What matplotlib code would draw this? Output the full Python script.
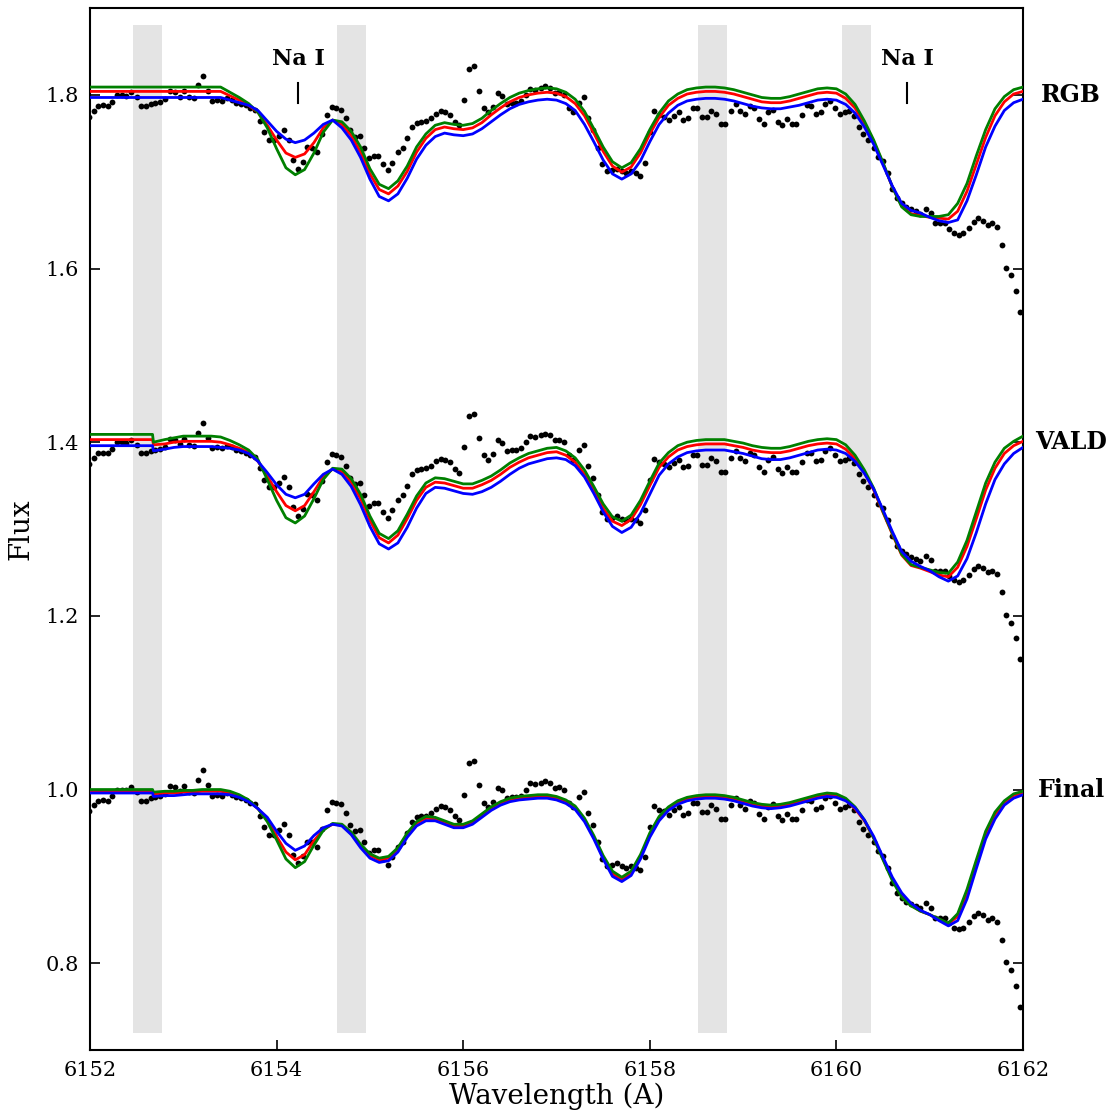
import matplotlib
matplotlib.use('Agg')
import matplotlib.pyplot as plt
import numpy as np

plt.rcParams['font.family'] = 'serif'
plt.rcParams['font.serif'] = ['DejaVu Serif']

# observed spectrum (plotted at +0.0, +0.4, +0.8)
obs_wave = [6151.99, 6152.04, 6152.09, 6152.14, 6152.19, 6152.24, 6152.29, 6152.34, 6152.39, 6152.44,
            6152.50, 6152.55, 6152.60, 6152.65, 6152.70, 6152.75, 6152.80, 6152.86, 6152.91, 6152.96,
            6153.01, 6153.06, 6153.11, 6153.16, 6153.21, 6153.26, 6153.31, 6153.36, 6153.41, 6153.47,
            6153.52, 6153.57, 6153.62, 6153.67, 6153.72, 6153.77, 6153.82, 6153.87, 6153.92, 6153.97,
            6154.03, 6154.08, 6154.13, 6154.18, 6154.23, 6154.28, 6154.33, 6154.38, 6154.43, 6154.49,
            6154.54, 6154.59, 6154.64, 6154.69, 6154.74, 6154.79, 6154.84, 6154.89, 6154.94, 6154.99,
            6155.04, 6155.09, 6155.14, 6155.19, 6155.24, 6155.30, 6155.35, 6155.40, 6155.45, 6155.50,
            6155.55, 6155.60, 6155.66, 6155.71, 6155.76, 6155.81, 6155.86, 6155.91, 6155.96, 6156.01,
            6156.06, 6156.12, 6156.17, 6156.22, 6156.27, 6156.32, 6156.37, 6156.42, 6156.47, 6156.52,
            6156.57, 6156.62, 6156.67, 6156.72, 6156.77, 6156.83, 6156.88, 6156.93, 6156.98, 6157.03,
            6157.08, 6157.13, 6157.18, 6157.24, 6157.29, 6157.34, 6157.39, 6157.44, 6157.49, 6157.54,
            6157.60, 6157.65, 6157.70, 6157.75, 6157.80, 6157.85, 6157.90, 6157.95, 6158.00, 6158.05,
            6158.10, 6158.15, 6158.21, 6158.26, 6158.31, 6158.36, 6158.41, 6158.46, 6158.51, 6158.56,
            6158.61, 6158.66, 6158.71, 6158.76, 6158.81, 6158.87, 6158.92, 6158.97, 6159.02, 6159.07,
            6159.12, 6159.17, 6159.22, 6159.27, 6159.32, 6159.37, 6159.42, 6159.47, 6159.52, 6159.57,
            6159.63, 6159.68, 6159.73, 6159.78, 6159.83, 6159.88, 6159.93, 6159.98, 6160.04, 6160.09,
            6160.14, 6160.19, 6160.24, 6160.29, 6160.34, 6160.40, 6160.45, 6160.50, 6160.55, 6160.60,
            6160.65, 6160.70, 6160.75, 6160.80, 6160.85, 6160.90, 6160.96, 6161.01, 6161.06, 6161.11,
            6161.16, 6161.21, 6161.26, 6161.31, 6161.36, 6161.42, 6161.47, 6161.52, 6161.57, 6161.62,
            6161.67, 6161.72, 6161.77, 6161.82, 6161.87, 6161.92, 6161.97]
obs_flux = [0.975, 0.982, 0.987, 0.988, 0.987, 0.992, 1.000, 1.000, 0.999, 1.003,
            0.997, 0.987, 0.987, 0.990, 0.991, 0.992, 0.995, 1.004, 1.003, 0.998,
            1.004, 0.997, 0.996, 1.011, 1.022, 1.005, 0.993, 0.994, 0.993, 0.996,
            0.994, 0.991, 0.990, 0.988, 0.985, 0.983, 0.970, 0.957, 0.948, 0.948,
            0.953, 0.960, 0.948, 0.925, 0.915, 0.923, 0.940, 0.939, 0.934, 0.955,
            0.977, 0.986, 0.985, 0.983, 0.973, 0.959, 0.952, 0.953, 0.939, 0.927,
            0.930, 0.930, 0.920, 0.913, 0.922, 0.934, 0.939, 0.950, 0.963, 0.968,
            0.969, 0.970, 0.973, 0.978, 0.981, 0.980, 0.977, 0.969, 0.965, 0.994,
            1.030, 1.033, 1.005, 0.985, 0.980, 0.986, 1.002, 0.999, 0.990, 0.991,
            0.991, 0.993, 1.000, 1.007, 1.006, 1.008, 1.010, 1.008, 1.002, 1.003,
            1.000, 0.985, 0.980, 0.991, 0.997, 0.973, 0.959, 0.939, 0.920, 0.912,
            0.913, 0.915, 0.912, 0.910, 0.912, 0.910, 0.907, 0.922, 0.957, 0.981,
            0.977, 0.975, 0.971, 0.976, 0.980, 0.971, 0.973, 0.985, 0.985, 0.974,
            0.974, 0.982, 0.978, 0.966, 0.966, 0.982, 0.990, 0.982, 0.978, 0.987,
            0.985, 0.972, 0.966, 0.980, 0.983, 0.969, 0.965, 0.972, 0.966, 0.966,
            0.977, 0.988, 0.987, 0.978, 0.980, 0.990, 0.993, 0.985, 0.978, 0.980,
            0.982, 0.976, 0.963, 0.955, 0.948, 0.939, 0.929, 0.924, 0.910, 0.892,
            0.881, 0.875, 0.871, 0.868, 0.866, 0.863, 0.869, 0.864, 0.852, 0.852,
            0.852, 0.846, 0.841, 0.839, 0.841, 0.847, 0.854, 0.858, 0.855, 0.850,
            0.852, 0.848, 0.827, 0.801, 0.792, 0.774, 0.750]

# synthetic spectra grid (step in the model at 6152.68)
model_wave = [6152.0, 6152.1, 6152.2, 6152.3, 6152.4, 6152.5, 6152.6, 6152.67, 6152.68,
              6152.8, 6152.9, 6153.0, 6153.1, 6153.2, 6153.3, 6153.4, 6153.5, 6153.6, 6153.7,
              6153.8, 6153.9, 6154.0, 6154.1, 6154.2, 6154.3, 6154.4, 6154.5, 6154.6, 6154.7,
              6154.8, 6154.9, 6155.0, 6155.1, 6155.2, 6155.3, 6155.4, 6155.5, 6155.6, 6155.7,
              6155.8, 6155.9, 6156.0, 6156.1, 6156.2, 6156.3, 6156.4, 6156.5, 6156.6, 6156.7,
              6156.8, 6156.9, 6157.0, 6157.1, 6157.2, 6157.3, 6157.4, 6157.5, 6157.6, 6157.7,
              6157.8, 6157.9, 6158.0, 6158.1, 6158.2, 6158.3, 6158.4, 6158.5, 6158.6, 6158.7,
              6158.8, 6158.9, 6159.0, 6159.1, 6159.2, 6159.3, 6159.4, 6159.5, 6159.6, 6159.7,
              6159.8, 6159.9, 6160.0, 6160.1, 6160.2, 6160.3, 6160.4, 6160.5, 6160.6, 6160.7,
              6160.8, 6160.9, 6161.0, 6161.1, 6161.2, 6161.3, 6161.4, 6161.5, 6161.6, 6161.7,
              6161.8, 6161.9, 6162.0]

# Final linelist
final_red = [0.998, 0.998, 0.998, 0.998, 0.998, 0.998, 0.998, 0.998, 0.995,
             0.996, 0.996, 0.997, 0.997, 0.998, 0.998, 0.998, 0.996, 0.992, 0.987,
             0.978, 0.965, 0.946, 0.928, 0.919, 0.925, 0.941, 0.954, 0.960, 0.959,
             0.949, 0.935, 0.924, 0.919, 0.921, 0.931, 0.948, 0.961, 0.967, 0.966,
             0.962, 0.958, 0.958, 0.962, 0.970, 0.978, 0.984, 0.988, 0.990, 0.991,
             0.992, 0.992, 0.990, 0.986, 0.979, 0.965, 0.945, 0.922, 0.903, 0.896,
             0.903, 0.922, 0.948, 0.967, 0.978, 0.985, 0.989, 0.991, 0.992, 0.992,
             0.991, 0.989, 0.986, 0.983, 0.981, 0.980, 0.981, 0.983, 0.986, 0.989,
             0.992, 0.994, 0.993, 0.988, 0.978, 0.964, 0.944, 0.920, 0.897, 0.878,
             0.867, 0.860, 0.856, 0.850, 0.845, 0.854, 0.881, 0.915, 0.948, 0.971,
             0.985, 0.993, 0.996]
final_green = [1.000, 1.000, 1.000, 1.000, 1.000, 1.000, 1.000, 1.000, 0.997,
               0.998, 0.998, 0.999, 0.999, 1.000, 1.000, 1.000, 0.998, 0.994, 0.988,
               0.978, 0.963, 0.942, 0.920, 0.910, 0.917, 0.936, 0.953, 0.961, 0.960,
               0.951, 0.937, 0.926, 0.921, 0.923, 0.933, 0.950, 0.963, 0.969, 0.968,
               0.964, 0.960, 0.960, 0.964, 0.972, 0.980, 0.986, 0.990, 0.992, 0.993,
               0.994, 0.994, 0.992, 0.988, 0.981, 0.967, 0.947, 0.924, 0.906, 0.899,
               0.906, 0.925, 0.950, 0.969, 0.980, 0.987, 0.991, 0.993, 0.994, 0.994,
               0.993, 0.991, 0.988, 0.985, 0.983, 0.982, 0.983, 0.985, 0.988, 0.991,
               0.994, 0.996, 0.995, 0.990, 0.980, 0.965, 0.944, 0.919, 0.895, 0.876,
               0.866, 0.860, 0.856, 0.851, 0.846, 0.857, 0.885, 0.919, 0.952, 0.974,
               0.987, 0.995, 0.998]
final_blue = [0.996, 0.996, 0.996, 0.996, 0.996, 0.996, 0.996, 0.996, 0.992,
              0.993, 0.993, 0.994, 0.995, 0.995, 0.995, 0.995, 0.994, 0.991, 0.986,
              0.978, 0.968, 0.952, 0.938, 0.930, 0.935, 0.947, 0.956, 0.960, 0.958,
              0.948, 0.933, 0.921, 0.916, 0.918, 0.928, 0.945, 0.958, 0.964, 0.964,
              0.960, 0.956, 0.956, 0.960, 0.968, 0.976, 0.982, 0.986, 0.988, 0.989,
              0.990, 0.990, 0.988, 0.984, 0.977, 0.963, 0.943, 0.920, 0.900, 0.894,
              0.901, 0.920, 0.945, 0.964, 0.976, 0.983, 0.987, 0.989, 0.990, 0.990,
              0.989, 0.987, 0.984, 0.981, 0.979, 0.978, 0.979, 0.981, 0.984, 0.987,
              0.990, 0.992, 0.991, 0.987, 0.979, 0.965, 0.946, 0.922, 0.899, 0.881,
              0.869, 0.861, 0.856, 0.849, 0.843, 0.849, 0.874, 0.909, 0.943, 0.966,
              0.982, 0.990, 0.994]

# VALD linelist
vald_red = [1.403, 1.403, 1.403, 1.403, 1.403, 1.403, 1.403, 1.403, 1.397,
            1.398, 1.400, 1.401, 1.401, 1.401, 1.401, 1.400, 1.397, 1.393, 1.388,
            1.378, 1.361, 1.343, 1.327, 1.321, 1.327, 1.343, 1.360, 1.369, 1.366,
            1.354, 1.335, 1.310, 1.290, 1.284, 1.293, 1.312, 1.333, 1.348, 1.354,
            1.353, 1.350, 1.347, 1.347, 1.351, 1.356, 1.363, 1.371, 1.377, 1.382,
            1.385, 1.388, 1.389, 1.385, 1.377, 1.363, 1.344, 1.324, 1.309, 1.304,
            1.311, 1.328, 1.350, 1.371, 1.383, 1.391, 1.395, 1.397, 1.398, 1.398,
            1.398, 1.396, 1.394, 1.391, 1.389, 1.388, 1.388, 1.390, 1.393, 1.396,
            1.398, 1.399, 1.398, 1.392, 1.381, 1.365, 1.345, 1.319, 1.294, 1.270,
            1.258, 1.255, 1.251, 1.247, 1.245, 1.256, 1.280, 1.312, 1.345, 1.370,
            1.387, 1.396, 1.401]
vald_green = [1.409, 1.409, 1.409, 1.409, 1.409, 1.409, 1.409, 1.409, 1.400,
              1.403, 1.405, 1.407, 1.407, 1.407, 1.407, 1.406, 1.402, 1.397, 1.391,
              1.380, 1.357, 1.333, 1.313, 1.307, 1.315, 1.335, 1.357, 1.370, 1.369,
              1.358, 1.340, 1.315, 1.295, 1.289, 1.298, 1.317, 1.338, 1.353, 1.359,
              1.358, 1.355, 1.352, 1.352, 1.356, 1.361, 1.368, 1.376, 1.382, 1.387,
              1.390, 1.393, 1.394, 1.390, 1.382, 1.368, 1.349, 1.329, 1.314, 1.309,
              1.316, 1.333, 1.355, 1.376, 1.388, 1.396, 1.400, 1.402, 1.403, 1.403,
              1.403, 1.401, 1.399, 1.396, 1.394, 1.393, 1.393, 1.395, 1.398, 1.401,
              1.403, 1.404, 1.403, 1.397, 1.385, 1.368, 1.347, 1.320, 1.295, 1.271,
              1.259, 1.256, 1.253, 1.250, 1.249, 1.262, 1.287, 1.320, 1.353, 1.377,
              1.393, 1.401, 1.407]
vald_blue = [1.396, 1.396, 1.396, 1.396, 1.396, 1.396, 1.396, 1.396, 1.390,
             1.392, 1.394, 1.395, 1.395, 1.395, 1.395, 1.394, 1.393, 1.391, 1.387,
             1.378, 1.365, 1.351, 1.340, 1.336, 1.340, 1.352, 1.363, 1.369, 1.363,
             1.349, 1.328, 1.303, 1.283, 1.277, 1.284, 1.302, 1.324, 1.341, 1.348,
             1.347, 1.344, 1.341, 1.340, 1.343, 1.348, 1.355, 1.363, 1.370, 1.375,
             1.378, 1.381, 1.382, 1.380, 1.373, 1.360, 1.341, 1.320, 1.303, 1.296,
             1.302, 1.318, 1.340, 1.362, 1.375, 1.383, 1.388, 1.390, 1.391, 1.391,
             1.391, 1.389, 1.387, 1.384, 1.381, 1.380, 1.380, 1.382, 1.385, 1.388,
             1.391, 1.392, 1.391, 1.387, 1.378, 1.364, 1.346, 1.322, 1.297, 1.274,
             1.263, 1.257, 1.252, 1.245, 1.240, 1.246, 1.266, 1.296, 1.329, 1.357,
             1.375, 1.387, 1.394]

# RGB linelist
rgb_red = [1.804, 1.804, 1.804, 1.804, 1.804, 1.804, 1.804, 1.804, 1.804,
           1.804, 1.804, 1.804, 1.804, 1.804, 1.804, 1.804, 1.799, 1.794, 1.788,
           1.780, 1.765, 1.748, 1.733, 1.728, 1.732, 1.745, 1.762, 1.771, 1.766,
           1.753, 1.734, 1.709, 1.691, 1.686, 1.695, 1.712, 1.734, 1.750, 1.760,
           1.763, 1.761, 1.760, 1.762, 1.768, 1.777, 1.785, 1.792, 1.797, 1.800,
           1.802, 1.803, 1.802, 1.798, 1.790, 1.776, 1.756, 1.735, 1.718, 1.711,
           1.717, 1.733, 1.755, 1.774, 1.788, 1.796, 1.801, 1.803, 1.804, 1.804,
           1.803, 1.801, 1.798, 1.795, 1.792, 1.791, 1.791, 1.793, 1.796, 1.799,
           1.802, 1.803, 1.802, 1.796, 1.785, 1.767, 1.746, 1.721, 1.694, 1.672,
           1.663, 1.661, 1.659, 1.658, 1.657, 1.666, 1.689, 1.720, 1.751, 1.776,
           1.792, 1.801, 1.804]
rgb_green = [1.809, 1.809, 1.809, 1.809, 1.809, 1.809, 1.809, 1.809, 1.809,
             1.809, 1.809, 1.809, 1.809, 1.809, 1.809, 1.809, 1.803, 1.797, 1.790,
             1.780, 1.762, 1.738, 1.716, 1.708, 1.714, 1.733, 1.757, 1.771, 1.769,
             1.758, 1.740, 1.715, 1.697, 1.692, 1.701, 1.718, 1.740, 1.755, 1.765,
             1.768, 1.766, 1.765, 1.767, 1.773, 1.782, 1.790, 1.797, 1.802, 1.805,
             1.807, 1.808, 1.807, 1.803, 1.795, 1.781, 1.761, 1.740, 1.723, 1.716,
             1.722, 1.738, 1.760, 1.779, 1.793, 1.801, 1.806, 1.808, 1.809, 1.809,
             1.808, 1.806, 1.803, 1.800, 1.797, 1.796, 1.796, 1.798, 1.801, 1.804,
             1.807, 1.808, 1.807, 1.801, 1.789, 1.770, 1.748, 1.722, 1.694, 1.671,
             1.662, 1.660, 1.660, 1.660, 1.662, 1.675, 1.698, 1.730, 1.760, 1.784,
             1.798, 1.806, 1.809]
rgb_blue = [1.797, 1.797, 1.797, 1.797, 1.797, 1.797, 1.797, 1.797, 1.797,
            1.797, 1.797, 1.797, 1.797, 1.797, 1.797, 1.797, 1.794, 1.791, 1.788,
            1.782, 1.770, 1.758, 1.749, 1.745, 1.748, 1.756, 1.766, 1.771, 1.762,
            1.748, 1.728, 1.703, 1.683, 1.678, 1.686, 1.704, 1.726, 1.742, 1.752,
            1.756, 1.754, 1.753, 1.755, 1.761, 1.769, 1.777, 1.784, 1.789, 1.792,
            1.794, 1.795, 1.794, 1.790, 1.782, 1.766, 1.746, 1.725, 1.709, 1.703,
            1.709, 1.724, 1.746, 1.766, 1.779, 1.788, 1.793, 1.795, 1.796, 1.796,
            1.795, 1.793, 1.790, 1.787, 1.785, 1.784, 1.784, 1.786, 1.788, 1.791,
            1.794, 1.795, 1.794, 1.789, 1.779, 1.763, 1.743, 1.719, 1.695, 1.675,
            1.667, 1.664, 1.659, 1.655, 1.653, 1.656, 1.678, 1.708, 1.740, 1.764,
            1.782, 1.791, 1.795]

panel_names = ["Final", "VALD", "RGB"]
panel_offsets = [0.0, 0.4, 0.8]
panel_models = [(final_red, final_green, final_blue),
                (vald_red, vald_green, vald_blue),
                (rgb_red, rgb_green, rgb_blue)]

# masked (excluded) regions
mask_regions = [(6152.46, 6152.77), (6154.65, 6154.96), (6158.52, 6158.83), (6160.06, 6160.37)]

# Na I lines
na_lines = [6154.23, 6160.76]

fig = plt.figure(figsize=(11.1, 11.18), dpi=100)
ax = fig.add_axes([0.0811, 0.0608, 0.8405, 0.932])

for lo, hi in mask_regions:
    ax.fill_between([lo, hi], [0.72, 0.72], [1.88, 1.88], color='#e4e4e4', lw=0, zorder=0)

wave = np.array(obs_wave)
flux = np.array(obs_flux)
for off, (r, g, b) in zip(panel_offsets, panel_models):
    ax.plot(wave, flux + off, 'o', color='k', ms=4.2, mec='none', zorder=2)
    ax.plot(model_wave, r, color='red', lw=2.0, zorder=3, solid_joinstyle='round')
    ax.plot(model_wave, g, color='green', lw=2.0, zorder=3, solid_joinstyle='round')
    ax.plot(model_wave, b, color='blue', lw=2.0, zorder=3, solid_joinstyle='round')

for name, off in zip(panel_names, panel_offsets):
    ax.text(1.0515, 1.0 + off, name, transform=ax.get_yaxis_transform(),
            ha='center', va='center', fontsize=17, fontweight='bold')

for w in na_lines:
    ax.plot([w, w], [1.791, 1.814], color='k', lw=1.5)
    ax.text(w, 1.841, 'Na I', ha='center', va='center', fontsize=16, fontweight='bold')

ax.set_xlim(6152, 6162)
ax.set_ylim(0.7, 1.9)
ax.set_xticks([6152, 6154, 6156, 6158, 6160, 6162])
ax.set_yticks([0.8, 1.0, 1.2, 1.4, 1.6, 1.8])
ax.set_yticklabels(['0.8', '1.0', '1.2', '1.4', '1.6', '1.8'])
ax.tick_params(direction='in', length=7, width=1.2, labelsize=15, top=False, right=True, pad=8)
for s in ax.spines.values():
    s.set_linewidth(1.5)
ax.set_xlabel('Wavelength (A)', fontsize=20, labelpad=2)
ax.set_ylabel('Flux', fontsize=20, labelpad=8)

fig.savefig('out.png', dpi=100)
